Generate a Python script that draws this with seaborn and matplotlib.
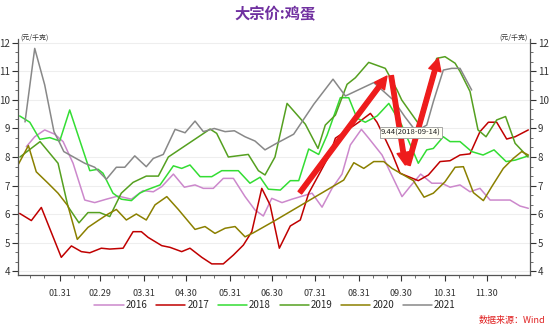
import numpy as np
import pandas as pd
import matplotlib
matplotlib.use("Agg")
import matplotlib.pyplot as plt
from matplotlib.ticker import MultipleLocator, FixedLocator
import seaborn as sns

# ---------------- data (day of year, price 元/千克) ----------------
years = ["2016", "2017", "2018", "2019", "2020", "2021"]
colors = ["#CC88CC", "#C00000", "#33DD33", "#55A020", "#8B8000", "#888888"]

day_2016 = [7.3, 13.3, 20.4, 27.5, 33.5, 40.6, 48.9, 56.0, 64.3, 72.6, 82.1, 90.4, 97.7, 103.7, 112.0,
            119.8, 127.4, 133.3, 140.4, 147.5, 154.7, 163.0, 170.1, 176.0, 182.0, 189.3, 196.4, 210.7,
            217.8, 224.9, 232.0, 237.9, 245.8, 251.0, 260.5, 274.7, 280.4, 288.0, 295.9, 303.0, 308.9,
            316.0, 323.1, 330.2, 337.4, 351.6, 358.7, 364.6]
val_2016 = [8.36, 8.71, 8.95, 8.80, 8.54, 7.78, 6.49, 6.40, 6.52, 6.63, 6.52, 6.82, 6.78, 6.96, 7.40,
            6.94, 7.02, 6.90, 6.90, 7.25, 7.25, 6.61, 6.14, 5.93, 6.55, 6.40, 6.52, 6.73,
            6.24, 6.90, 7.40, 8.42, 8.97, 8.66, 8.07, 6.61, 6.96, 7.40, 7.08, 7.08, 6.94,
            7.02, 6.78, 6.90, 6.49, 6.49, 6.28, 6.20]

day_2017 = [2.6, 10.9, 18.0, 32.2, 39.4, 46.5, 52.5, 60.7, 66.7, 76.2, 83.3, 89.2, 94.0, 103.7, 109.6,
            117.9, 123.8, 132.2, 139.3, 147.5, 154.7, 161.8, 167.8, 174.9, 180.8, 187.4, 195.2, 202.3,
            208.3, 215.4, 223.7, 227.3, 236.8, 243.9, 252.2, 256.9, 262.8, 267.6, 273.3, 286.3, 293.5,
            301.8, 308.9, 316.0, 323.1, 330.2, 336.2, 342.1, 349.2, 355.2, 364.6]
val_2017 = [6.02, 5.77, 6.23, 4.48, 4.88, 4.68, 4.64, 4.80, 4.77, 4.80, 5.38, 5.38, 5.18, 4.89, 4.83,
            4.68, 4.80, 4.48, 4.25, 4.25, 4.56, 4.91, 5.38, 6.90, 6.32, 4.80, 5.58, 5.79,
            6.73, 7.37, 8.13, 8.66, 8.98, 9.22, 9.53, 9.22, 8.63, 8.13, 7.43, 7.17, 7.37,
            7.84, 7.87, 8.07, 8.11, 8.89, 9.22, 9.22, 8.63, 8.71, 8.95]

day_2018 = [2.6, 9.8, 16.9, 24.0, 31.1, 38.2, 52.5, 58.4, 61.9, 69.0, 74.9, 82.1, 88.0, 92.7, 102.5,
            112.0, 117.9, 123.8, 131.0, 139.3, 146.4, 158.2, 166.5, 173.7, 179.6, 188.1, 195.2, 201.2,
            208.3, 215.4, 221.4, 230.8, 236.8, 242.7, 248.6, 257.0, 265.3, 274.5, 286.3, 292.3, 297.0,
            304.1, 308.9, 316.0, 324.3, 332.4, 340.2, 348.8, 355.2, 364.6]
val_2018 = [9.44, 9.22, 8.62, 8.68, 8.56, 9.65, 7.52, 7.57, 7.43, 6.73, 6.52, 6.47, 6.73, 6.84, 7.02,
            7.69, 7.60, 7.72, 7.31, 7.31, 7.52, 7.52, 7.08, 7.29, 6.87, 6.84, 7.17, 7.17,
            8.28, 8.09, 8.77, 10.08, 10.08, 9.36, 9.22, 9.44, 9.88, 9.12, 7.78, 8.25, 8.30,
            8.71, 8.54, 8.54, 8.19, 8.07, 8.25, 7.84, 7.89, 8.04]

day_2019 = [2.8, 17.1, 29.9, 37.0, 44.8, 51.2, 59.6, 66.7, 74.9, 83.3, 92.7, 101.3, 108.4, 138.1, 142.8,
            151.1, 165.3, 172.5, 177.2, 184.3, 192.9, 205.9, 214.9, 220.1, 227.3, 235.6, 241.5, 251.0,
            262.8, 271.2, 274.5, 286.3, 299.4, 305.3, 312.5, 316.0, 323.1, 328.8, 334.5, 342.1, 348.4,
            355.2, 364.4]
val_2019 = [8.00, 8.54, 7.78, 6.26, 5.69, 6.05, 6.05, 5.91, 6.73, 7.11, 7.33, 7.33, 8.00, 8.98, 8.83,
            8.00, 8.09, 7.52, 7.37, 8.00, 9.88, 9.15, 8.30, 9.12, 9.47, 10.55, 10.78, 11.32,
            11.11, 10.35, 10.00, 9.18, 11.46, 11.52, 11.29, 11.00, 10.30, 8.95, 8.71, 9.30, 9.42,
            8.48, 8.00]

day_2020 = [1.4, 8.8, 14.4, 22.8, 29.9, 37.0, 43.6, 51.2, 58.4, 65.5, 71.4, 78.5, 85.6, 92.7, 98.9,
            107.3, 115.5, 127.4, 134.5, 141.6, 148.8, 155.9, 163.0, 168.9, 184.3, 233.2, 240.4, 247.5,
            254.6, 261.7, 267.6, 274.7, 282.8, 290.4, 297.0, 305.3, 312.5, 318.4, 325.5, 332.6, 338.6,
            346.8, 353.9, 359.9, 364.6]
val_2020 = [7.72, 8.40, 7.48, 7.08, 6.73, 6.28, 5.11, 5.53, 5.77, 6.00, 6.16, 5.79, 6.00, 5.79, 6.32,
            6.61, 6.16, 5.46, 5.56, 5.32, 5.50, 5.56, 5.20, 5.34, 5.77, 7.19, 7.80, 7.60,
            7.84, 7.84, 7.60, 7.40, 7.17, 6.59, 6.73, 7.13, 7.64, 7.66, 6.75, 6.47, 6.96,
            7.60, 7.95, 8.19, 8.07]

day_2021 = [6.4, 13.3, 20.4, 27.0, 30.4, 34.0, 42.7, 48.9, 56.0, 64.3, 71.4, 77.4, 84.5, 92.7, 97.7,
            104.8, 113.2, 120.3, 127.4, 133.3, 141.1, 148.8, 155.4, 163.0, 170.1, 177.2, 184.3, 197.6,
            211.9, 225.6, 234.4, 254.6, 268.5, 276.9, 284.7, 292.3, 297.0, 304.1, 310.1, 316.0, 324.3]
val_2021 = [9.23, 11.81, 10.53, 8.89, 8.56, 8.19, 7.95, 7.78, 7.64, 7.22, 7.64, 7.64, 8.04, 7.66, 7.95,
            8.09, 8.97, 8.85, 9.26, 8.89, 9.00, 8.89, 8.92, 8.71, 8.56, 8.25, 8.45, 8.80,
            9.85, 10.73, 10.14, 10.61, 10.00, 9.40, 8.90, 9.12, 9.94, 11.05, 11.11, 11.11, 10.35]

tick_days = [31, 60, 91, 121, 152, 182, 213, 244, 274, 305, 335]
tick_labels = ["01.31", "02.29", "03.31", "04.30", "05.31", "06.30", "07.31", "08.31", "09.30", "10.31", "11.30"]

# ---------------- frame ----------------
days = [day_2016, day_2017, day_2018, day_2019, day_2020, day_2021]
vals = [val_2016, val_2017, val_2018, val_2019, val_2020, val_2021]
df = pd.concat([pd.DataFrame({"day": d, "price": v, "year": y}) for d, v, y in zip(days, vals, years)],
               ignore_index=True)

sns.set_style("white")
plt.rcParams["font.family"] = ["Noto Sans CJK SC", "DejaVu Sans"]
plt.rcParams["axes.unicode_minus"] = False

W, H = 550, 327
fig = plt.figure(figsize=(W / 100, H / 100), dpi=100)
ax = fig.add_axes([18 / W, 1 - 275 / H, 512 / W, 236 / H])

for yv in range(4, 13):
    ax.axhline(yv, color="#EEEEEE", lw=0.8, zorder=0)

sns.lineplot(data=df, x="day", y="price", hue="year", hue_order=years,
             palette=dict(zip(years, colors)), estimator=None, sort=True,
             lw=1.1, ax=ax, legend=True)

ax.set_xlim(1.4, 365.8)
ax.set_ylim(3.86, 12.14)
ax.set_xlabel("")
ax.set_ylabel("")

ax.xaxis.set_major_locator(FixedLocator(tick_days))
ax.set_xticklabels(tick_labels)
minor = []
for m in range(1, 13):
    base = pd.Timestamp(2016, m, 1).dayofyear
    minor += [base + 9, base + 19]
ax.xaxis.set_minor_locator(FixedLocator(minor))
ax.yaxis.set_major_locator(MultipleLocator(1))
ax.yaxis.set_minor_locator(MultipleLocator(1 / 3))

ax.tick_params(axis="both", which="major", direction="out", length=4, width=0.8,
               labelsize=7, colors="#333333", pad=1.5)
ax.tick_params(axis="both", which="minor", direction="out", length=2.5, width=0.6, colors="#555555")
ax.tick_params(axis="y", which="both", left=True, right=True, labelleft=True, labelright=True)
ax.tick_params(axis="x", which="both", bottom=True, top=False)
ax.tick_params(axis="x", which="major", labelsize=6.5, pad=6)

for s in ["left", "right", "bottom"]:
    ax.spines[s].set_color("#555555")
    ax.spines[s].set_linewidth(0.9)
ax.spines["top"].set_visible(False)

# legend
handles, labels = ax.get_legend_handles_labels()
ax.legend_.remove()
fig.legend(handles, labels, loc="center", bbox_to_anchor=(0.5, 1 - 305 / H), ncol=6,
           frameon=False, fontsize=7, handlelength=3.0, handletextpad=0.2, columnspacing=0.9)

# arrows
arrow_kw = dict(arrowstyle="simple,head_length=0.9,head_width=0.9,tail_width=0.32",
                color="#EE1C1C", mutation_scale=10, shrinkA=0, shrinkB=0)
ax.annotate("", xy=(264, 10.84), xytext=(202, 6.75), arrowprops=arrow_kw, zorder=5)
ax.annotate("", xy=(277, 7.72), xytext=(267, 10.85), arrowprops=arrow_kw, zorder=5)
ax.annotate("", xy=(300.5, 11.47), xytext=(279, 7.72), arrowprops=arrow_kw, zorder=5)

# tooltip
ax.text(259.8, 8.86, "9.44(2018-09-14)", fontsize=5.5, va="center", ha="left", color="#222222",
        bbox=dict(boxstyle="square,pad=0.2", fc="#FFFFF5", ec="#999999", lw=0.6), zorder=6)

# texts
fig.text(0.5, 1 - 14 / H, "大宗价:鸡蛋", ha="center", va="center", color="#7030A0",
         fontsize=11, fontweight="bold")
fig.text(20 / W, 1 - 38 / H, "(元/千克)", ha="left", va="center", fontsize=5, color="#333333")
fig.text(528 / W, 1 - 38 / H, "(元/千克)", ha="right", va="center", fontsize=5, color="#333333")
fig.text(545 / W, 1 - 321 / H, "数据来源：Wind", ha="right", va="center", color="#E02020",
         fontsize=6.5, style="italic")

fig.savefig("out.png", dpi=100)
